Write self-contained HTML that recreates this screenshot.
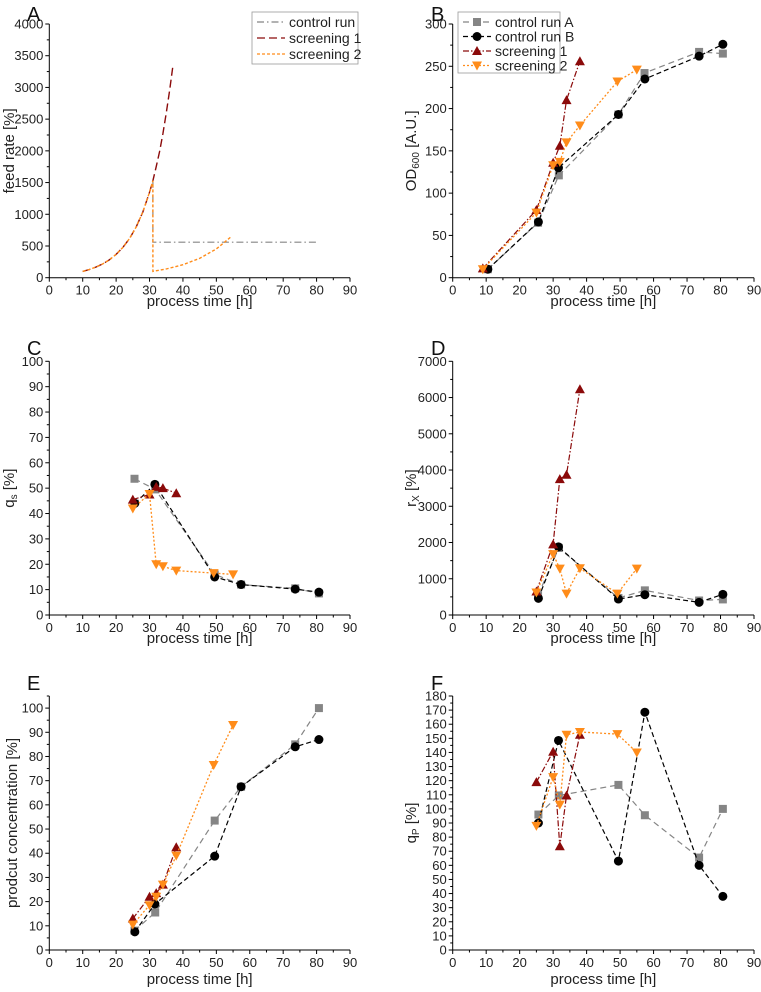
<!DOCTYPE html>
<html><head><meta charset="utf-8"><style>
html,body{margin:0;padding:0;background:#fff;}
svg{display:block;font-family:"Liberation Sans",Arial,sans-serif;}
</style></head><body>
<svg id="fig" width="761" height="992" viewBox="0 0 761 992"></svg>
<script>
// ---- Panel A data (feed rate) ----
const feedT = [10,12,14,16,18,20,22,24,26,28,30,31];
const feedV = [100,130,168,218,283,367,476,617,801,1038,1346,1530];
const scr1FeedT = [31,32,33,34,35,36,37];
const scr1FeedV = [1530,1750,1990,2270,2590,2950,3340];
const ctrlFeedT = [31,31,80];
const ctrlFeedV = [1530,560,560];
const scr2FeedT = [31,31,35,40,45,50,54.5];
const scr2FeedV = [1530,100,137,205,305,454,650];
// ---- Panel B OD600 ----
const bCtrlAX=[10.5,25.5,31.7,49.5,57.3,73.6,80.7], bCtrlAY=[10,65,121,193,242,267,265];
const bCtrlBX=[10.5,25.6,31.6,49.5,57.4,73.6,80.7], bCtrlBY=[10,66,130,193,235,262,276];
const bScr1X=[9,25,30,32,34,38], bScr1Y=[11,80,136,156,210,256];
const bScr2X=[9,25,30,32,34,38,49.2,55], bScr2Y=[10,77,133,137,160,180,232,246];
// ---- Panel C qs ----
const cCtrlAX=[25.5,31.7,49.5,57.4,73.6,80.7], cCtrlAY=[53.7,49.5,16,12,10.5,8.5];
const cCtrlBX=[25.6,31.6,49.5,57.4,73.6,80.7], cCtrlBY=[44,51.5,15,12,10.2,9];
const cScr1X=[25,30,32,34,38], cScr1Y=[45.5,47.5,50.5,50,48];
const cScr2X=[25,30,32,34,38,49.2,55], cScr2Y=[42,47.7,20,19.2,17.5,16.5,16];
// ---- Panel D rX ----
const dCtrlAX=[25.5,31.7,49.5,57.4,73.6,80.7], dCtrlAY=[550,1850,470,680,400,430];
const dCtrlBX=[25.6,31.6,49.5,57.4,73.6,80.7], dCtrlBY=[460,1880,440,560,350,570];
const dScr1X=[25,30,32,34,38], dScr1Y=[650,1950,3750,3870,6230];
const dScr2X=[25,30,32,34,38,49.2,55], dScr2Y=[620,1680,1280,590,1290,590,1280];
// ---- Panel E product ----
const eCtrlAX=[25.5,31.7,49.5,57.4,73.6,80.7], eCtrlAY=[8,15.5,53.5,67.5,85,100];
const eCtrlBX=[25.6,31.6,49.5,57.4,73.6,80.7], eCtrlBY=[7.5,19,38.8,67.5,84,87];
const eScr1X=[25,30,32,34,38], eScr1Y=[13,22,23.5,27,42.5];
const eScr2X=[25,30,32,34,38,49.2,55], eScr2Y=[10.5,18.5,22,27,39,76.5,93];
// ---- Panel F qP ----
const fCtrlAX=[25.6,31.7,49.5,57.4,73.6,80.7], fCtrlAY=[96,109.5,117,95.5,65.5,100];
const fCtrlBX=[25.6,31.6,49.5,57.4,73.6,80.7], fCtrlBY=[90,148.5,63,168.5,60,38];
const fScr1X=[25,30,32,34,38], fScr1Y=[119,140.5,73.5,109.5,152.5];
const fScr2X=[25,30,32,34,38,49.2,55], fScr2Y=[88,122.5,103,152.5,154.5,153,140];
const xTicks=[0,10,20,30,40,50,60,70,80,90];

const NS="http://www.w3.org/2000/svg";
const svg=document.getElementById('fig');
function mk(tag,attrs,parent){const e=document.createElementNS(NS,tag);for(const k in attrs)e.setAttribute(k,attrs[k]);(parent||svg).appendChild(e);return e;}
const GRAY='#858585',BLACK='#000',RED='#8b0a0a',ORANGE='#ff8c1a';
const STY={
 ctrlA:{c:GRAY,d:'6,4',m:'sq',w:1.2},
 ctrlB:{c:BLACK,d:'5,3',m:'ci',w:1.2},
 scr1:{c:RED,d:'6,2,1.5,2',m:'up',w:1.2},
 scr2:{c:ORANGE,d:'2,2',m:'dn',w:1.3}
};
function marker(g,type,x,y,c){
 let e;
 if(type==='sq') e=mk('rect',{x:x-4,y:y-4,width:8,height:8,fill:c},g);
 else if(type==='ci') e=mk('circle',{cx:x,cy:y,r:4.5,fill:c},g);
 else if(type==='up') e=mk('polygon',{points:`${x},${y-5} ${x+5},${y+4} ${x-5},${y+4}`,fill:c},g);
 else e=mk('polygon',{points:`${x},${y+5} ${x+5},${y-4} ${x-5},${y-4}`,fill:c},g);
 return e;
}
function panel(p){
 const g=mk('g',{});
 
 
 const sx=v=>p.x0+(v-0)/90*(p.x1-p.x0);
 const sy=v=>p.yb-(v-0)/(p.ymax)*(p.yb-p.yt);
 const ax=mk('g',{stroke:'#000','stroke-width':1},g);
 
 
 mk('line',{x1:p.x0,y1:p.yt,x2:p.x0,y2:p.yb},ax);
 mk('line',{x1:p.x0,y1:p.yb,x2:p.x1,y2:p.yb},ax);
 for(let v=0;v<=90;v+=5){const X=sx(v);mk('line',{x1:X,y1:p.yb,x2:X,y2:p.yb+(v%10===0?4:2.5)},ax);}
 xTicks.forEach(v=>{const t=mk('text',{x:sx(v),y:p.yb+17,'font-size':13,'text-anchor':'middle',fill:'#222'},g);t.textContent=v;
  });
 for(let v=0;v<=p.ymax+1e-9;v+=p.minor){const Y=sy(v);const maj=Math.abs(v/p.major-Math.round(v/p.major))<1e-6;mk('line',{x1:p.x0,y1:Y,x2:p.x0-(maj?4:2.5),y2:Y},ax);}
 p.yTicks.forEach(v=>{const t=mk('text',{x:p.x0-6,y:sy(v)+4.5,'font-size':13,'text-anchor':'end',fill:'#222'},g);t.textContent=v;
  });
 const xt=mk('text',{x:(p.x0+p.x1)/2,y:p.xlabY,'font-size':15,'text-anchor':'middle',fill:'#222'},g);
 xt.textContent='process time [h]';
 
 const yt=mk('text',{x:0,y:0,'font-size':15,'text-anchor':'middle',fill:'#222',transform:`translate(${p.ylabX},${(p.yt+p.yb)/2}) rotate(-90)`},g);
 yt.innerHTML=p.ylab;
 
 const lt=mk('text',{x:p.letX,y:p.letY,'font-size':20,fill:'#111'},g);lt.textContent=p.letter;
 
 p.series.forEach(s=>{
  const st=s.style;
  const sg=mk('g',{},g);
  
  
  const pts=s.x.map((v,i)=>sx(v).toFixed(1)+','+sy(s.y[i]).toFixed(1)).join(' ');
  const pl=mk('polyline',{points:pts,fill:'none',stroke:st.c,'stroke-width':st.w,'stroke-dasharray':st.d},sg);
  
  
  if(s.markers!==false) s.x.forEach((v,i)=>{const m=marker(sg,st.m,sx(v),sy(s.y[i]),st.c);
   
   });
 });
 return g;
}
function range(a,b,s){const r=[];for(let v=a;v<=b;v+=s)r.push(v);return r;}
const colL={x0:49.3,x1:350,ylabX:14,letX:27},colR={x0:452.7,x1:754,ylabX:416,letX:431};
const row1={yt:24,yb:277.7,xlabY:306,letY:21},row2={yt:361.3,yb:615,xlabY:643,letY:355};
const std=(a,b,c,d)=>[{name:'control-run-a',style:STY.ctrlA,x:a,y:b},{name:'control-run-b',style:STY.ctrlB,x:c,y:d}];
panel(Object.assign({},colL,row1,{name:'panel-a-feed-rate',letter:'A',ymax:4000,major:500,minor:250,yTicks:range(0,4000,500),ylab:'feed rate [%]',
 series:[
  {name:'control-run',style:{c:GRAY,d:'7,3,1.5,3',w:1.2},x:ctrlFeedT,y:ctrlFeedV,markers:false},
  {name:'screening-1',style:{c:RED,d:'8,4',w:1.4},x:feedT.concat(scr1FeedT),y:feedV.concat(scr1FeedV),markers:false},
  {name:'screening-2',style:{c:ORANGE,d:'3,2',w:1.4},x:feedT.concat(scr2FeedT),y:feedV.concat(scr2FeedV),markers:false}
 ]}));
panel(Object.assign({},colR,row1,{name:'panel-b-od600',letter:'B',ymax:300,major:50,minor:25,yTicks:range(0,300,50),ylab:'OD<tspan font-size="10" dy="3">600</tspan><tspan dy="-3"> [A.U.]</tspan>',
 series:std(bCtrlAX,bCtrlAY,bCtrlBX,bCtrlBY).concat([{name:'screening-1',style:STY.scr1,x:bScr1X,y:bScr1Y},{name:'screening-2',style:STY.scr2,x:bScr2X,y:bScr2Y}])}));
panel(Object.assign({},colL,row2,{name:'panel-c-qs',letter:'C',ymax:100,major:10,minor:5,yTicks:range(0,100,10),ylab:'q<tspan font-size="10" dy="3">s</tspan><tspan dy="-3"> [%]</tspan>',
 series:std(cCtrlAX,cCtrlAY,cCtrlBX,cCtrlBY).concat([{name:'screening-1',style:STY.scr1,x:cScr1X,y:cScr1Y},{name:'screening-2',style:STY.scr2,x:cScr2X,y:cScr2Y}])}));
panel(Object.assign({},colR,row2,{name:'panel-d-rx',letter:'D',ymax:7000,major:1000,minor:500,yTicks:range(0,7000,1000),ylab:'r<tspan font-size="10" dy="3">X</tspan><tspan dy="-3"> [%]</tspan>',
 series:std(dCtrlAX,dCtrlAY,dCtrlBX,dCtrlBY).concat([{name:'screening-1',style:STY.scr1,x:dScr1X,y:dScr1Y},{name:'screening-2',style:STY.scr2,x:dScr2X,y:dScr2Y}])}));
panel(Object.assign({},colL,{yt:696,yb:950,xlabY:984,letY:690,ylabX:17,name:'panel-e-product',letter:'E',ymax:105,major:10,minor:5,yTicks:range(0,100,10),ylab:'prodcut concentration [%]',
 series:std(eCtrlAX,eCtrlAY,eCtrlBX,eCtrlBY).concat([{name:'screening-1',style:STY.scr1,x:eScr1X,y:eScr1Y},{name:'screening-2',style:STY.scr2,x:eScr2X,y:eScr2Y}])}));
panel(Object.assign({},colR,{yt:696,yb:950,xlabY:984,letY:690,name:'panel-f-qp',letter:'F',ymax:180,major:10,minor:5,yTicks:range(0,180,10),ylab:'q<tspan font-size="10" dy="3">P</tspan><tspan dy="-3"> [%]</tspan>',
 series:std(fCtrlAX,fCtrlAY,fCtrlBX,fCtrlBY).concat([{name:'screening-1',style:STY.scr1,x:fScr1X,y:fScr1Y},{name:'screening-2',style:STY.scr2,x:fScr2X,y:fScr2Y}])}));

function legend(x,y,w,h,entries,name){
 const g=mk('g',{});
 
 
 mk('rect',{x:x,y:y,width:w,height:h,fill:'#fff',stroke:'#999','stroke-width':0.8},g);
 entries.forEach((e,i)=>{
  const ey=y+10+i*e.dy;
  const eg=mk('g',{},g);
  
  
  mk('line',{x1:x+5,y1:ey,x2:x+33,y2:ey,stroke:e.s.c,'stroke-width':1.3,'stroke-dasharray':e.s.d},eg);
  if(e.s.m) marker(eg,e.s.m,x+19,ey,e.s.c);
  const t=mk('text',{x:x+37,y:ey+5,'font-size':14,fill:'#222'},eg);t.textContent=e.t;
 });
}
legend(252,12,106,52,[{t:'control run',s:{c:GRAY,d:'7,3,1.5,3'},dy:16},{t:'screening 1',s:{c:RED,d:'8,4'},dy:16},{t:'screening 2',s:{c:ORANGE,d:'3,2'},dy:16}],'legend-feed');
legend(458,12,102,61,[{t:'control run A',s:STY.ctrlA,dy:14.5},{t:'control run B',s:STY.ctrlB,dy:14.5},{t:'screening 1',s:STY.scr1,dy:14.5},{t:'screening 2',s:STY.scr2,dy:14.5}],'legend-od600');
</script>
</body></html>
